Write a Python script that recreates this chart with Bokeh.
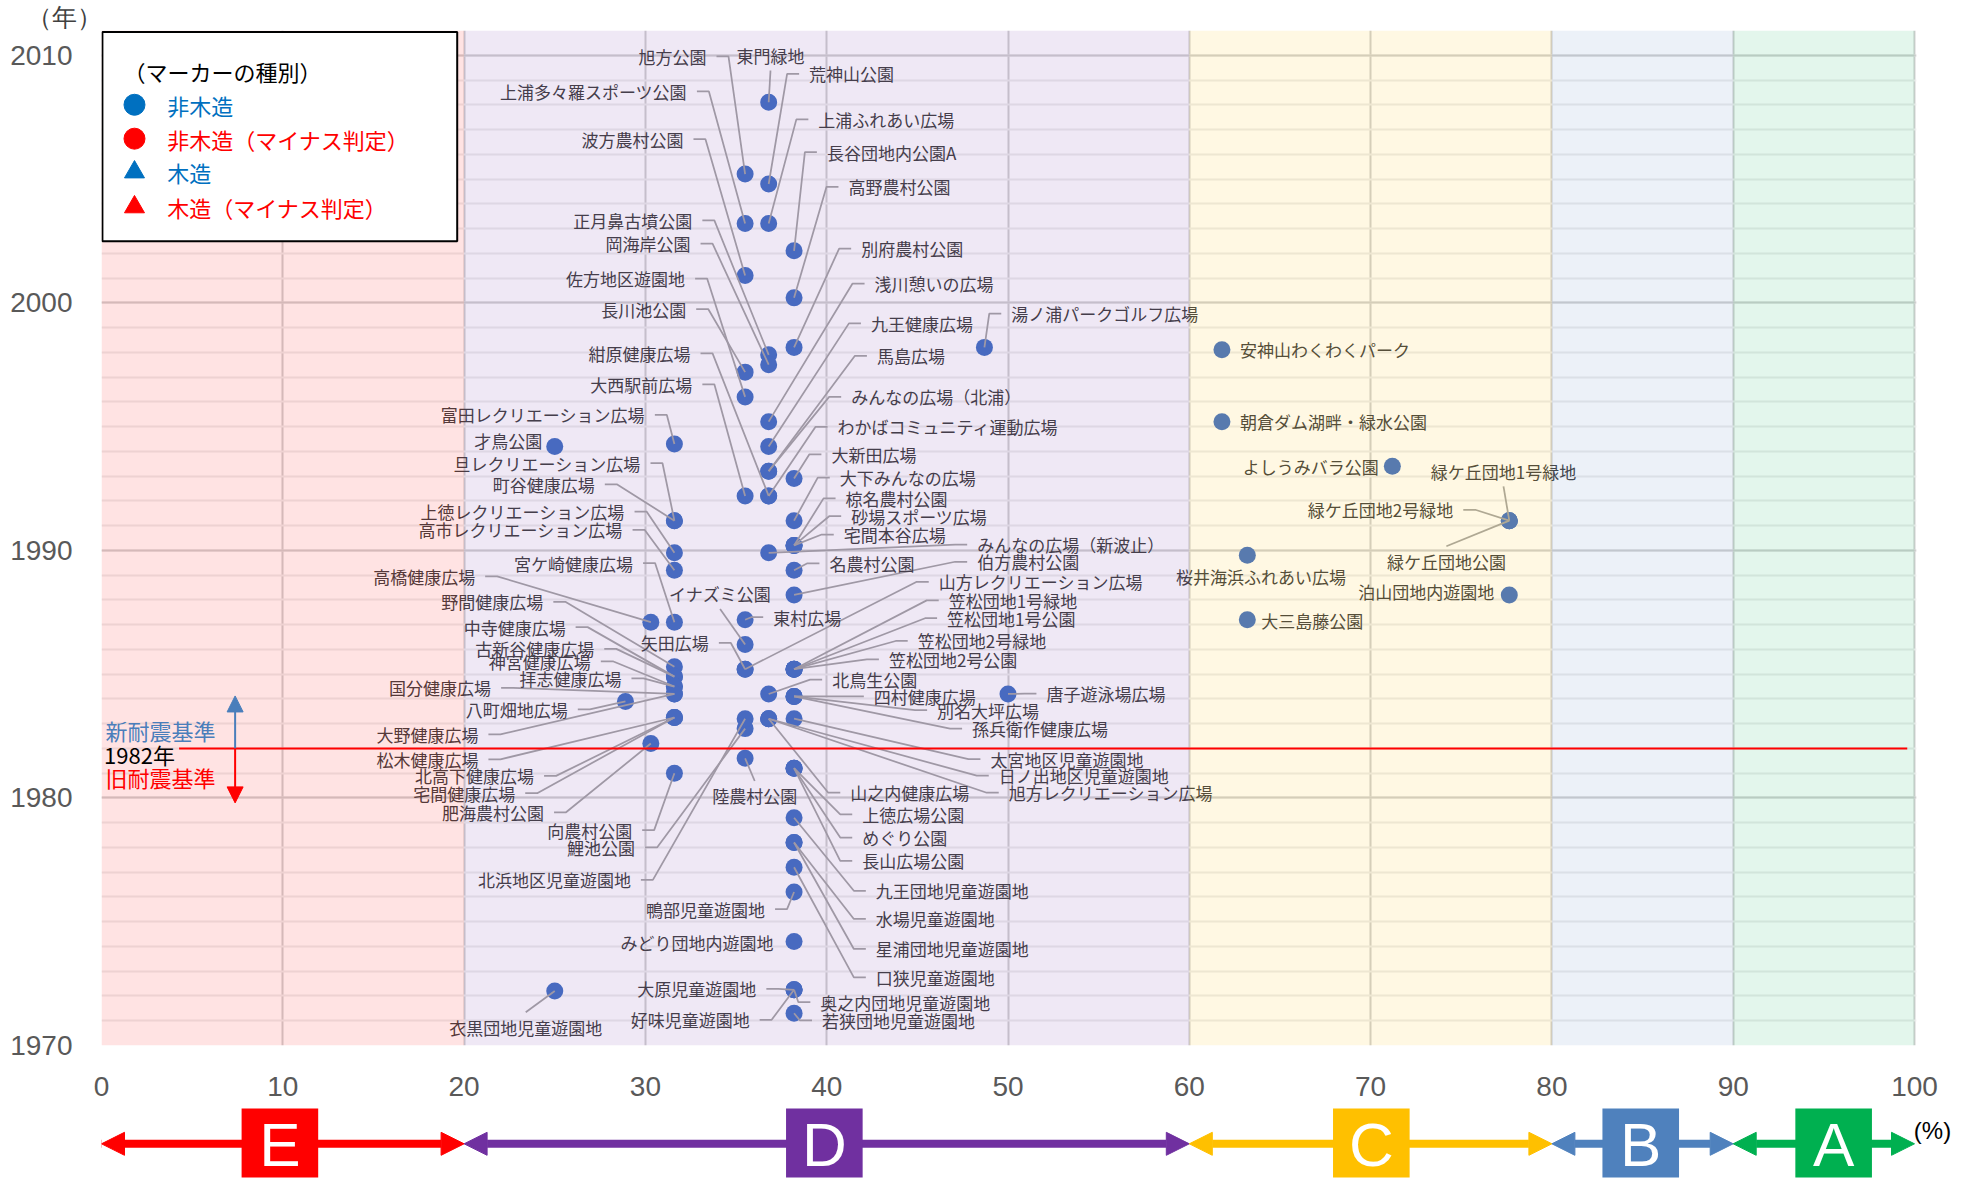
from bokeh.plotting import figure
from bokeh.models import ColumnDataSource, Range1d, SingleIntervalTicker, Arrow, NormalHead
from bokeh.layouts import column
from bokeh.embed import file_html
from bokeh.resources import INLINE
from bokeh.core.properties import value

JP = "Noto Sans CJK JP"

# ---------------- data ----------------
site_names = [
    "旭方公園", "東門緑地", "荒神山公園", "上浦多々羅スポーツ公園", "上浦ふれあい広場",
    "波方農村公園", "長谷団地内公園A", "高野農村公園", "正月鼻古墳公園", "岡海岸公園",
    "別府農村公園", "佐方地区遊園地", "浅川憩いの広場", "長川池公園", "九王健康広場",
    "紺原健康広場", "馬島広場", "大西駅前広場", "みんなの広場（北浦）", "富田レクリエーション広場",
    "わかばコミュニティ運動広場", "才鳥公園", "大新田広場", "旦レクリエーション広場", "大下みんなの広場",
    "町谷健康広場", "椋名農村公園", "上徳レクリエーション広場", "砂場スポーツ広場", "高市レクリエーション広場",
    "宅間本谷広場", "みんなの広場（新波止）", "宮ケ崎健康広場", "名農村公園", "伯方農村公園",
    "高橋健康広場", "山方レクリエーション広場", "イナズミ公園", "野間健康広場", "笠松団地1号緑地",
    "東村広場", "笠松団地1号公園", "中寺健康広場", "笠松団地2号緑地", "矢田広場",
    "古新谷健康広場", "笠松団地2号公園", "神宮健康広場", "拝志健康広場", "北鳥生公園",
    "国分健康広場", "唐子遊泳場広場", "四村健康広場", "八町畑地広場", "別名大坪広場",
    "孫兵衛作健康広場", "大野健康広場", "太宮地区児童遊園地", "松木健康広場", "日ノ出地区児童遊園地",
    "北高下健康広場", "旭方レクリエーション広場", "山之内健康広場", "宅間健康広場", "陸農村公園",
    "肥海農村公園", "上徳広場公園", "向農村公園", "めぐり公園", "鯉池公園",
    "長山広場公園", "北浜地区児童遊園地", "九王団地児童遊園地", "鴨部児童遊園地", "水場児童遊園地",
    "みどり団地内遊園地", "星浦団地児童遊園地", "口狭児童遊園地", "大原児童遊園地", "奥之内団地児童遊園地",
    "好味児童遊園地", "若狭団地児童遊園地", "衣黒団地児童遊園地", "湯ノ浦パークゴルフ広場", "安神山わくわくパーク",
    "朝倉ダム湖畔・緑水公園", "よしうみバラ公園", "緑ケ丘団地1号緑地", "緑ケ丘団地2号緑地", "緑ケ丘団地公園",
    "桜井海浜ふれあい広場", "泊山団地内遊園地", "大三島藤公園",
]
site_pct = [
    35.5, 36.8, 36.8, 35.5, 36.8,
    35.5, 38.2, 38.2, 36.8, 36.8,
    38.2, 35.5, 36.8, 35.5, 36.8,
    36.8, 36.8, 35.5, 36.8, 31.6,
    36.8, 25.0, 38.2, 31.6, 38.2,
    31.6, 38.2, 31.6, 38.2, 31.6,
    38.2, 36.8, 31.6, 38.2, 38.2,
    30.3, 35.5, 35.5, 31.6, 38.2,
    35.5, 38.2, 31.6, 38.2, 35.5,
    31.6, 38.2, 31.6, 31.6, 36.8,
    31.6, 50.0, 38.2, 28.9, 38.2,
    38.2, 31.6, 38.2, 31.6, 36.8,
    31.6, 36.8, 36.8, 31.6, 35.5,
    30.3, 38.2, 31.6, 38.2, 35.5,
    38.2, 35.5, 38.2, 38.2, 38.2,
    38.2, 38.2, 38.2, 38.2, 38.2,
    38.2, 38.2, 25.0, 48.7, 61.8,
    61.8, 71.2, 77.65, 77.65, 77.65,
    63.2, 77.65, 63.2,
]
site_year = [
    2005.2, 2008.1, 2004.8, 2003.2, 2003.2,
    2001.1, 2002.1, 2000.2, 1997.9, 1997.5,
    1998.2, 1996.2, 1995.2, 1997.2, 1994.2,
    1992.2, 1993.2, 1992.2, 1993.2, 1994.3,
    1992.2, 1994.2, 1992.9, 1991.2, 1991.2,
    1991.2, 1990.2, 1989.9, 1990.2, 1989.2,
    1990.2, 1989.9, 1987.1, 1989.2, 1988.2,
    1987.1, 1985.2, 1986.2, 1985.3, 1985.2,
    1987.2, 1985.2, 1984.9, 1985.2, 1985.2,
    1984.9, 1985.2, 1984.5, 1984.5, 1984.2,
    1984.2, 1984.2, 1984.1, 1983.9, 1984.1,
    1984.1, 1984.2, 1983.2, 1983.25, 1983.2,
    1983.25, 1983.2, 1983.2, 1983.25, 1981.6,
    1982.2, 1981.2, 1981.0, 1981.2, 1982.8,
    1981.2, 1983.2, 1979.2, 1976.2, 1978.2,
    1974.2, 1978.2, 1977.2, 1972.25, 1972.25,
    1972.25, 1971.3, 1972.2, 1998.2, 1998.1,
    1995.2, 1993.4, 1991.2, 1991.2, 1991.2,
    1989.8, 1988.2, 1987.2,
]

# label anchor positions (x in %, y in year) and the side the label sits on
label_x = [
    33.37, 36.9, 39.03, 32.29, 39.54,
    32.10, 40.01, 41.2, 32.59, 32.49,
    41.9, 32.19, 42.64, 32.25, 42.44,
    32.49, 42.77, 32.59, 41.35, 29.97,
    40.6, 24.31, 40.26, 29.73, 40.72,
    27.21, 41.04, 28.85, 41.35, 28.74,
    40.94, 48.3, 29.32, 40.15, 48.3,
    20.61, 46.18, 34.12, 24.37, 46.73,
    37.05, 46.64, 25.6, 45.02, 33.5,
    27.18, 43.43, 26.99, 28.68, 40.3,
    21.49, 52.12, 42.6, 25.72, 46.09,
    48.02, 20.79, 49.03, 20.79, 49.49,
    23.86, 50.04, 41.3, 22.82, 36.03,
    24.41, 41.96, 29.27, 41.96, 29.43,
    41.96, 29.2, 42.71, 36.6, 42.71,
    37.07, 42.71, 42.71, 36.12, 39.65,
    35.75, 39.74, 23.4, 50.18, 62.8,
    62.8, 70.45, 77.33, 74.56, 74.18,
    63.95, 76.82, 63.97,
]
label_y = [
    2009.95, 2009.99, 2009.25, 2008.54, 2007.41,
    2006.61, 2006.09, 2004.68, 2003.33, 2002.39,
    2002.19, 2000.98, 2000.78, 1999.75, 1999.17,
    1997.96, 1997.86, 1996.71, 1996.2, 1995.47,
    1994.99, 1994.44, 1993.88, 1993.52, 1992.94,
    1992.67, 1992.1, 1991.57, 1991.38, 1990.83,
    1990.64, 1990.23, 1989.49, 1989.48, 1989.54,
    1988.95, 1988.73, 1988.24, 1987.92, 1987.98,
    1987.3, 1987.26, 1986.9, 1986.34, 1986.26,
    1986.02, 1985.6, 1985.52, 1984.83, 1984.78,
    1984.45, 1984.21, 1984.1, 1983.58, 1983.55,
    1982.8, 1982.57, 1981.57, 1981.56, 1980.9,
    1980.89, 1980.21, 1980.21, 1980.19, 1980.08,
    1979.42, 1979.34, 1978.7, 1978.4, 1978.0,
    1977.46, 1976.69, 1976.25, 1975.51, 1975.11,
    1974.17, 1973.9, 1972.75, 1972.29, 1971.75,
    1971.04, 1971.01, 1970.74, 1999.56, 1998.13,
    1995.2, 1993.39, 1993.19, 1991.64, 1989.56,
    1988.95, 1988.32, 1987.17,
]
label_side = [
    "L", "B", "R", "L", "R",
    "L", "R", "R", "L", "L",
    "R", "L", "R", "L", "R",
    "L", "R", "L", "R", "L",
    "R", "NL", "R", "L", "R",
    "L", "R", "L", "R", "L",
    "R", "R", "L", "R", "R",
    "L", "R", "B", "L", "R",
    "R", "R", "L", "R", "L",
    "L", "R", "L", "L", "R",
    "L", "R", "R", "L", "R",
    "R", "L", "R", "L", "R",
    "L", "R", "R", "L", "T",
    "L", "R", "L", "R", "L",
    "R", "L", "R", "L", "R",
    "NL", "R", "R", "L", "R",
    "L", "R", "T", "R", "NR",
    "NR", "NL", "B", "L", "T",
    "NC", "NL", "NR",
]

band_lo = [0, 20, 60, 80, 90]
band_hi = [20, 60, 80, 90, 100]
band_grade = ["E", "D", "C", "B", "A"]
band_color = ["#ff0000", "#7030a0", "#ffc000", "#4f81bd", "#00b050"]
grade_label_x = [9.84, 39.87, 70.04, 84.9, 95.54]

legend_items = ["非木造", "非木造（マイナス判定）", "木造", "木造（マイナス判定）"]
legend_marker = ["circle", "circle", "triangle", "triangle"]
legend_color = ["#0070c0", "#ff0000", "#0070c0", "#ff0000"]

standard_year = 1982

# ---------------- geometry ----------------
W = 1979
PAGE_H = 1184
ML, MR, MT, MB = 101, 0, 28, 63
PPX = 18.13                     # px per % (plot area 0..100 is 1813 px wide)
X0, XR = 0, (W - ML) / PPX      # frame runs a little past 100 for the "(%)" mark
Y0, Y1 = 1970, 2011
frame_h = 1017
H_MAIN = MT + frame_h + MB
H_BAND = PAGE_H - H_MAIN
ppy = frame_h / (Y1 - Y0)

p = figure(width=W, height=H_MAIN, x_range=Range1d(X0, XR), y_range=Range1d(Y0, Y1),
           output_backend="svg", toolbar_location=None,
           min_border_left=ML, min_border_right=MR, min_border_top=MT, min_border_bottom=MB)
p.outline_line_color = None
p.background_fill_color = "white"
p.border_fill_color = "white"

p.title.text = "（年）"
p.title.align = "left"
p.title.offset = -75
p.title.standoff = 0
p.title.text_font = "Liberation Sans"
p.title.text_font_size = "25px"
p.title.text_font_style = "normal"
p.title.text_color = "#404040"

xt = SingleIntervalTicker(interval=10, num_minor_ticks=0)
yt = SingleIntervalTicker(interval=10, num_minor_ticks=10)
p.xaxis.ticker = xt
p.yaxis.ticker = yt
p.xgrid.ticker = xt
p.ygrid.ticker = yt
for ax in p.axis:
    ax.axis_line_color = None
    ax.major_tick_line_color = None
    ax.minor_tick_line_color = None
    ax.major_tick_out = 0
    ax.major_tick_in = 0
    ax.minor_tick_out = 0
    ax.minor_tick_in = 0
    ax.major_label_text_font = "Liberation Sans"
    ax.major_label_text_font_size = "28px"
    ax.major_label_text_color = "#595959"
p.xaxis.major_label_standoff = 31
p.yaxis.major_label_standoff = 29

p.xgrid.grid_line_color = "#d0d0d0"
p.xgrid.grid_line_width = 2
p.ygrid.grid_line_color = "#d0d0d0"
p.ygrid.grid_line_width = 2
p.ygrid.minor_grid_line_color = "#ececec"
p.ygrid.minor_grid_line_width = 2

# blank the strip right of 100 %
p.quad(left=[100.1], right=[XR], bottom=[Y0], top=[Y1], fill_color="white", line_color=None)

# points
src = ColumnDataSource(dict(x=site_pct, y=site_year))
p.scatter("x", "y", source=src, size=17, marker="circle",
          fill_color="#4472c4", line_color=None)

# leader lines
GAP = 10 / PPX
SEG = 12 / PPX
VOFF = 15 / ppy
lead_xs, lead_ys = [], []
for px_, py_, lx, ly, side in zip(site_pct, site_year, label_x, label_y, label_side):
    if side == "L":
        lead_xs.append([lx + GAP, lx + GAP + SEG, px_]); lead_ys.append([ly, ly, py_])
    elif side == "R":
        lead_xs.append([lx - GAP, lx - GAP - SEG, px_]); lead_ys.append([ly, ly, py_])
    elif side == "T":
        lead_xs.append([lx, px_]); lead_ys.append([ly + VOFF, py_])
    elif side == "B":
        lead_xs.append([lx, px_]); lead_ys.append([ly - VOFF, py_])
p.multi_line(lead_xs, lead_ys, line_color="#a6a6a6", line_width=1.75)

# labels
align_of = {"L": "right", "NL": "right", "R": "left", "NR": "left",
            "T": "center", "B": "center", "NC": "center"}
for al in ["left", "right", "center"]:
    idx = [i for i, s in enumerate(label_side) if align_of[s] == al]
    p.text(x=[label_x[i] for i in idx], y=[label_y[i] for i in idx],
           text=[site_names[i] for i in idx], text_align=al, text_baseline="middle",
           text_font=value(JP), text_font_size="17px", text_color="#404040")

# translucent evaluation bands (drawn over grid and markers)
p.quad(left=band_lo, right=band_hi, bottom=Y0, top=Y1, fill_color=band_color,
       fill_alpha=0.11, line_color=None)

# 1982 standard line
p.segment(x0=4.28, y0=standard_year, x1=99.6, y1=standard_year, line_color="#ff0000", line_width=2)
ax_x = 7.37
p.add_layout(Arrow(end=NormalHead(size=16, fill_color="#4a7ebb", line_color="#4a7ebb"),
                   x_start=ax_x, y_start=standard_year, x_end=ax_x, y_end=standard_year + 2.12,
                   line_color="#4a7ebb", line_width=2))
p.add_layout(Arrow(end=NormalHead(size=16, fill_color="#ff0000", line_color="#ff0000"),
                   x_start=ax_x, y_start=standard_year, x_end=ax_x, y_end=standard_year - 2.2,
                   line_color="#ff0000", line_width=2))
p.text(x=[0.22], y=[standard_year + 0.73], text=["新耐震基準"], text_align="left",
       text_baseline="middle", text_font=value(JP), text_font_size="22px", text_color="#4a7ebb")
p.text(x=[0.14], y=[standard_year - 0.23], text=[f"{standard_year}年"], text_align="left",
       text_baseline="middle", text_font=value(JP), text_font_size="22px", text_color="#000000")
p.text(x=[0.22], y=[standard_year - 1.15], text=["旧耐震基準"], text_align="left",
       text_baseline="middle", text_font=value(JP), text_font_size="22px", text_color="#ff0000")

# legend box
p.quad(left=[0.05], right=[19.62], bottom=[2002.49], top=[2010.94], fill_color="white",
       line_color="black", line_width=2)
p.text(x=[1.21], y=[2009.38], text=["（マーカーの種別）"], text_align="left", text_baseline="middle",
       text_font=value(JP), text_font_size="22px", text_color="#000000")
leg_y = [2008.0, 2006.63, 2005.28, 2003.87]
leg_src = ColumnDataSource(dict(x=[1.82] * 4, y=leg_y, m=legend_marker, c=legend_color,
                                s=[21, 21, 20, 20], t=legend_items, tx=[3.62] * 4))
p.scatter("x", "y", marker="m", size="s", fill_color="c", line_color="c", source=leg_src)
p.text("tx", "y", text="t", text_color="c", text_align="left", text_baseline="middle",
       text_font=value(JP), text_font_size="22px", source=leg_src)

# ---------------- grade band figure ----------------
q = figure(width=W, height=H_BAND, x_range=Range1d(X0, XR),
           y_range=Range1d(0, H_BAND), output_backend="svg", toolbar_location=None,
           min_border_left=ML, min_border_right=MR, min_border_top=0, min_border_bottom=0,
           x_axis_location=None, y_axis_location=None)
q.outline_line_color = None
q.grid.grid_line_color = None
q.background_fill_color = "white"
q.border_fill_color = "white"

def qy(page_y):
    return PAGE_H - page_y

arrow_y = qy(1143.3)
for lo, hi, col in zip(band_lo, band_hi, band_color):
    q.add_layout(Arrow(start=NormalHead(size=23, fill_color=col, line_color=col),
                       end=NormalHead(size=23, fill_color=col, line_color=col),
                       x_start=lo, y_start=arrow_y, x_end=hi, y_end=arrow_y,
                       line_color=col, line_width=8, level="underlay"))
half_w = 38.3 / PPX
q.quad(left=[c - half_w for c in grade_label_x], right=[c + half_w for c in grade_label_x],
       bottom=qy(1177), top=qy(1100), fill_color=band_color, line_color=None)
q.text(x=grade_label_x, y=[qy(1144)] * 5, text=band_grade, text_align="center", text_baseline="middle",
       text_font=value("Liberation Sans"), text_font_size="62px", text_color="white")
q.text(x=[(1932 - ML) / PPX], y=[qy(1130)], text=["(%)"], text_align="center", text_baseline="middle",
       text_font=value("Liberation Sans"), text_font_size="24px", text_color="#000000")

layout = column(p, q)
open("out.html", "w").write(file_html(layout, INLINE))
